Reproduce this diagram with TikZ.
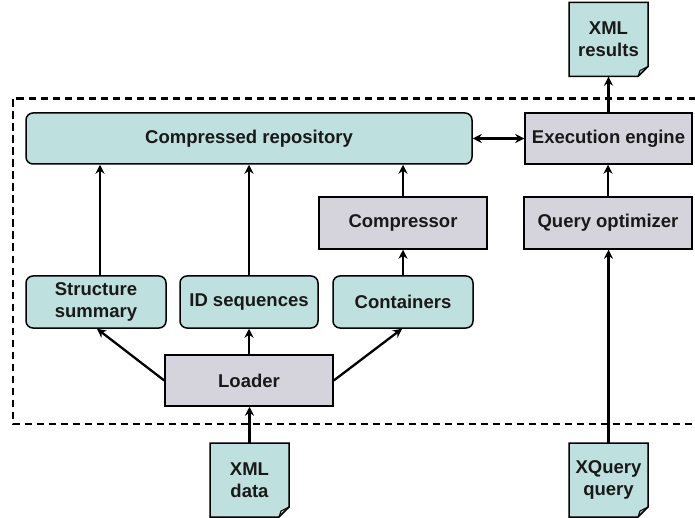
\documentclass[tikz,border=0pt]{standalone}
\usepackage{fontspec}
\setmainfont{Liberation Sans}
\usetikzlibrary{arrows.meta,calc}
\definecolor{tealfill}{HTML}{BEE0DE}
\definecolor{greyfill}{HTML}{D5D3DB}
\tikzset{
  base/.style={draw=black, line width=1.5pt, inner sep=2pt, align=center,
    font=\fontsize{18.5}{22}\selectfont\bfseries, text=black!90},
  tealbox/.style={base, fill=tealfill, rounded corners=7pt},
  greybox/.style={base, fill=greyfill},
  docnode/.style={inner sep=0pt, align=center, font=\fontsize{18.5}{22}\selectfont\bfseries, text=black!90},
  docline/.style={draw=black, line width=1.5pt, fill=tealfill, line join=miter},
  arr/.style={draw=black, line width=2.3pt, -{Stealth[length=9pt,width=9pt,inset=3pt]}},
  darr/.style={draw=black, line width=2.3pt, {Stealth[length=9pt,width=9pt,inset=3pt]}-{Stealth[length=9pt,width=9pt,inset=3pt]}},
  frame/.style={draw=black, line width=2.8pt, dash pattern=on 7.5pt off 4.5pt}
}
\newcommand{\mydoc}[5]{% name, cx, cy, text
  \path[docline] ({#2-39.5},{#3-37}) -- ({#2+39.5},{#3-37}) -- ({#2+39.5},{#3+27}) -- ({#2+29.5},{#3+37}) -- ({#2-39.5},{#3+37}) -- cycle;
  \draw[line width=1.1pt, line join=round] ({#2+29.5},{#3+37}) -- ({#2+31.5},{#3+31}) -- ({#2+39.5},{#3+27});
  \node[docnode, minimum width=79pt, minimum height=74pt] (#1) at (#2,#3) {#4#5};
}
\begin{document}
\begin{tikzpicture}[x=1pt,y=-1pt]
\useasboundingbox (0,0) rectangle (695,518);
% frame
\draw[frame] (720,98.5) -- (13,98.5) -- (13,424) -- (720,424);
% boxes
\node[tealbox, minimum width=446pt, minimum height=51pt] (repo) at (249,138.5) {Compressed repository};
\node[greybox, minimum width=167pt, minimum height=51pt] (exec) at (608.5,138.5) {Execution engine};
\node[greybox, minimum width=168pt, minimum height=52pt] (comp) at (403,223) {Compressor};
\node[greybox, minimum width=168pt, minimum height=52pt] (qopt) at (608,223) {Query optimizer};
\node[tealbox, minimum width=140pt, minimum height=52pt] (ss) at (96,302) {Structure\\summary};
\node[tealbox, minimum width=138pt, minimum height=52pt] (ids) at (249,302) {ID sequences};
\node[tealbox, minimum width=140pt, minimum height=52pt] (cont) at (403,302) {Containers};
\node[greybox, minimum width=168pt, minimum height=51pt] (loader) at (249,380.5) {Loader};
% documents
\mydoc{res}{608.5}{39.5}{XML\\}{results}
\mydoc{xd}{249.5}{480}{XML\\}{data}
\mydoc{xq}{608.5}{480}{XQuery\\}{query}
% connectors
\draw[arr] ([xshift=4pt]ss.north) -- ([xshift=4pt]ss.north |- repo.south);
\draw[arr] (ids.north) -- (ids.north |- repo.south);
\draw[arr] (comp.north) -- (comp.north |- repo.south);
\draw[arr] (cont.north) -- (cont.north |- comp.south);
\draw[arr] (loader.north) -- (ids.south);
\draw[arr] (loader.west) -- ([xshift=1pt]ss.south);
\draw[arr] (loader.east) -- ([xshift=-1pt]cont.south);
\draw[arr] (xd.north) -- (xd.north |- loader.south);
\draw[arr] (xq.north) -- (xq.north |- qopt.south);
\draw[arr] (qopt.north) -- (qopt.north |- exec.south);
\draw[arr] (exec.north) -- (exec.north |- res.south);
\draw[darr] (repo.east) -- (exec.west);
\end{tikzpicture}
\end{document}
